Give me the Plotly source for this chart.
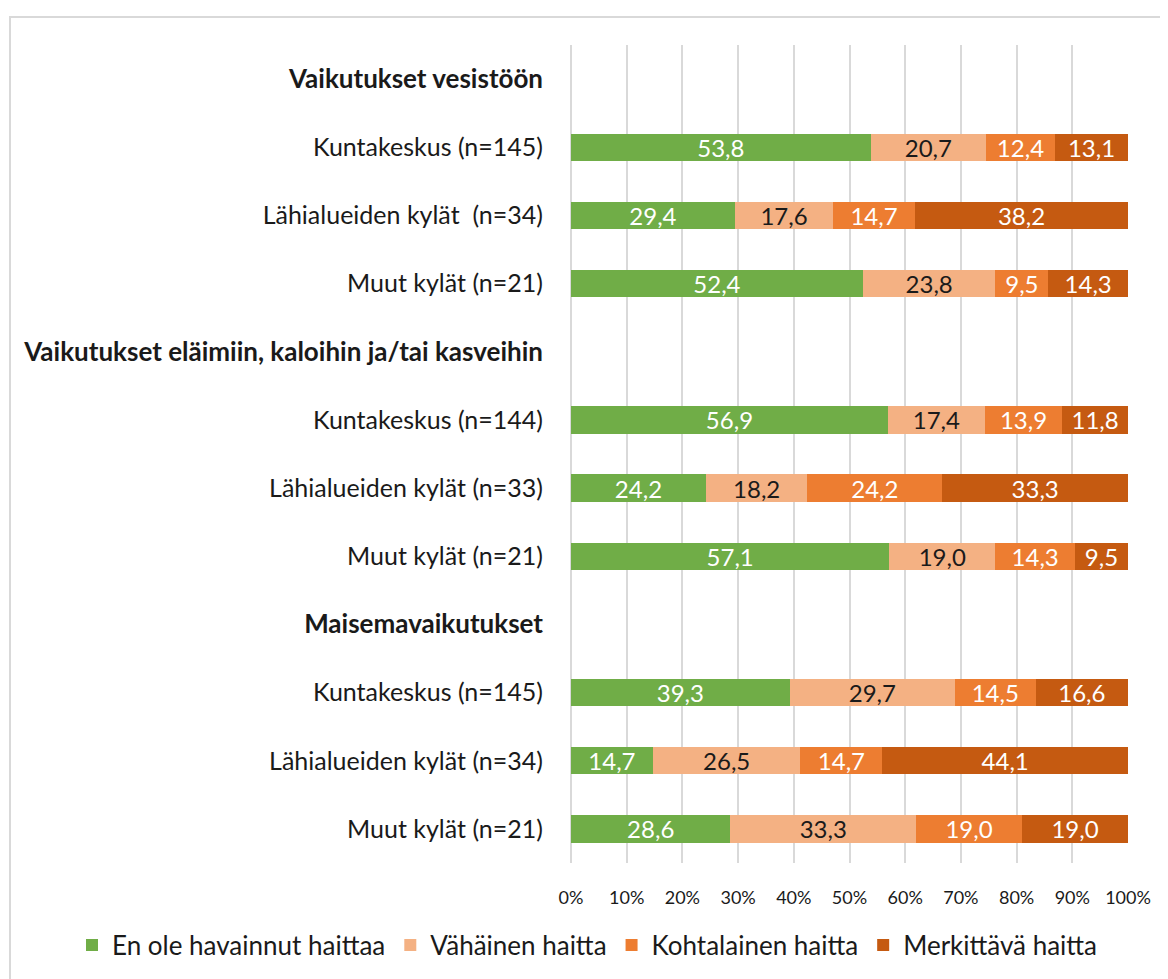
import plotly.graph_objects as go

# ---- data ----
row_labels = [
    "<b>Vaikutukset vesistöön</b>",
    "Kuntakeskus (n=145)",
    "Lähialueiden kylät \u00a0(n=34)",
    "Muut kylät (n=21)",
    "<b>Vaikutukset eläimiin, kaloihin ja/tai kasveihin</b>",
    "Kuntakeskus (n=144)",
    "Lähialueiden kylät (n=33)",
    "Muut kylät (n=21)",
    "<b>Maisemavaikutukset</b>",
    "Kuntakeskus (n=145)",
    "Lähialueiden kylät (n=34)",
    "Muut kylät (n=21)",
]
series_names = ["En ole havainnut haittaa", "Vähäinen haitta", "Kohtalainen haitta", "Merkittävä haitta"]
en_ole = [None, 53.8, 29.4, 52.4, None, 56.9, 24.2, 57.1, None, 39.3, 14.7, 28.6]
vahainen = [None, 20.7, 17.6, 23.8, None, 17.4, 18.2, 19.0, None, 29.7, 26.5, 33.3]
kohtalainen = [None, 12.4, 14.7, 9.5, None, 13.9, 24.2, 14.3, None, 14.5, 14.7, 19.0]
merkittava = [None, 13.1, 38.2, 14.3, None, 11.8, 33.3, 9.5, None, 16.6, 44.1, 19.0]
x_ticks = [0, 10, 20, 30, 40, 50, 60, 70, 80, 90, 100]
x_ticklabels = ["0%", "10%", "20%", "30%", "40%", "50%", "60%", "70%", "80%", "90%", "100%"]

colors = ["#70AD47", "#F4B183", "#ED7D31", "#C55A11"]
text_colors = ["white", "#1a1a1a", "white", "white"]
FONT = "Lato, 'Open Sans', sans-serif"

positions = list(range(len(row_labels)))

# page body has an 8px margin, so the figure is placed at (8, 8)
OFF = 8
PL, PR, PT, PB = 571, 1128, 45, 863   # plot area in page pixels
W, H = 1168 - OFF, 979 - OFF
PW, PH = PR - PL, PB - PT

fig = go.Figure()
for name, vals, col, tcol in zip(series_names, [en_ole, vahainen, kohtalainen, merkittava], colors, text_colors):
    txt = ["" if v is None else f"{v:.1f}".replace(".", ",") for v in vals]
    fig.add_trace(go.Bar(
        y=positions, x=vals, name=name, orientation="h",
        marker=dict(color=col, line=dict(width=0)),
        text=txt, textposition="inside", insidetextanchor="middle",
        textangle=0, constraintext="none",
        textfont=dict(color=tcol, size=24, family=FONT),
        hoverinfo="skip",
    ))

tick_text = [
    f"<span style='font-size:26px'>{t}</span>" if t.startswith("<b>") else t
    for t in row_labels
]

fig.update_layout(
    barmode="stack", barnorm="percent", bargap=0.6,
    width=W, height=H,
    margin=dict(l=PL - OFF, r=OFF + W - PR, t=PT - OFF, b=OFF + H - PB, autoexpand=False),
    plot_bgcolor="white", paper_bgcolor="white",
    font=dict(family=FONT, color="#1a1a1a"),
    showlegend=True,
    legend=dict(orientation="h",
                x=(72 - PL) / PW, xanchor="left",
                y=(PB - 945) / PH, yanchor="middle",
                bgcolor="rgba(0,0,0,0)",
                font=dict(size=26, family=FONT, color="#1a1a1a"),
                traceorder="normal", itemwidth=30),
    xaxis=dict(range=[0, 100], tickvals=x_ticks, ticktext=x_ticklabels,
               showgrid=True, gridcolor="#D9D9D9", gridwidth=2,
               zeroline=False, showline=False,
               tickfont=dict(size=18, family=FONT, color="#1a1a1a"),
               ticks="outside", ticklen=18, tickcolor="rgba(0,0,0,0)"),
    yaxis=dict(tickvals=positions, ticktext=tick_text, range=[11.5, -0.5],
               showgrid=False, zeroline=False, showline=False,
               tickfont=dict(size=25, family=FONT, color="#1a1a1a"),
               ticks="outside", ticklen=22, tickcolor="rgba(0,0,0,0)"),
    shapes=[
        dict(type="line", xref="paper", yref="paper", x0=0, x1=0, y0=0, y1=1,
             line=dict(color="#D9D9D9", width=2), layer="below"),
        dict(type="rect", xref="paper", yref="paper",
             x0=(10 - PL) / PW, x1=(1200 - PL) / PW,
             y0=(PB - 1000) / PH, y1=1 + (PT - 17) / PH,
             line=dict(color="#D9D9D9", width=2), fillcolor="rgba(0,0,0,0)"),
    ],
)

fig.write_html("out.html")
